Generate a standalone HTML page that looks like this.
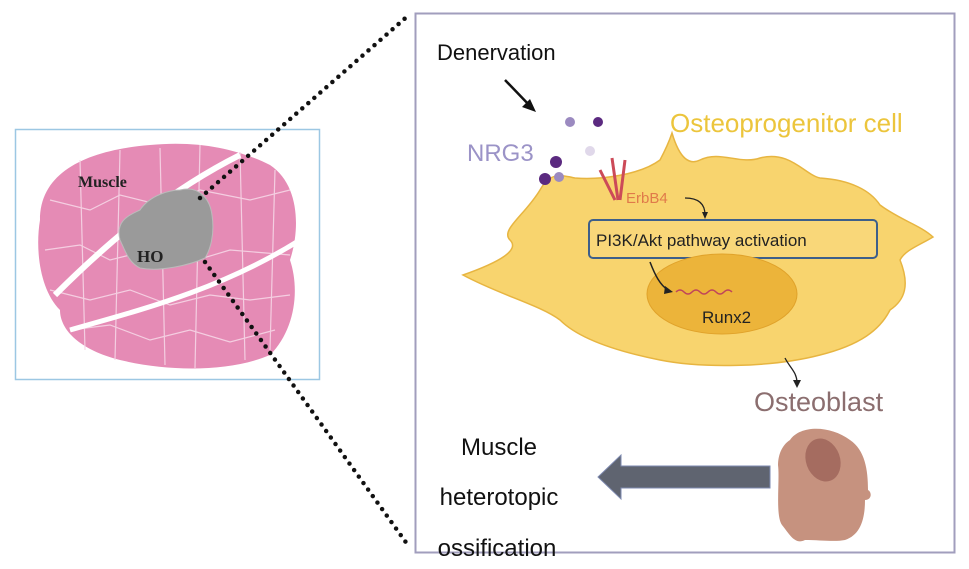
<!DOCTYPE html>
<html><head><style>body{margin:0;background:#fff}svg{display:block}</style></head>
<body>
<svg width="969" height="569" viewBox="0 0 969 569" xmlns="http://www.w3.org/2000/svg" font-family="Liberation Sans, sans-serif">
<rect width="969" height="569" fill="#fff"/>
<!-- left panel -->
<rect x="15.5" y="129.5" width="304" height="250" fill="#fff" stroke="#9cc7e3" stroke-width="1.5"/>
<path d="M40,220 C40,170 90,150 150,145 C200,140 240,150 270,165 C300,185 300,230 290,260 C300,290 295,330 270,355 C230,372 170,372 120,360 C80,350 60,330 60,310 C40,290 35,250 40,220Z" fill="#e58bb5"/>
<g stroke="#f6d6e6" stroke-width="1.2" fill="none" opacity="0.9">
<path d="M50,200 L90,210 L120,195 L160,205 L200,190 L250,200 L290,190"/>
<path d="M45,250 L80,245 L110,260 L150,250 L190,262 L230,250 L290,255"/>
<path d="M50,290 L90,300 L130,290 L170,305 L210,295 L250,300 L290,295"/>
<path d="M70,330 L110,325 L150,340 L190,330 L230,342 L275,330"/>
<path d="M80,160 L85,350 M120,150 L115,360 M160,148 L165,365 M200,145 L195,368 M240,152 L245,360 M275,170 L270,350"/>
</g>
<path d="M55,295 C110,240 170,190 240,155" stroke="#fff" stroke-width="6" fill="none"/>
<path d="M70,330 C140,310 220,290 300,240" stroke="#fff" stroke-width="5" fill="none"/>
<path d="M120,240 C115,220 130,215 140,210 C150,195 170,190 180,190 C200,185 210,200 212,215 C215,235 210,250 205,258 C190,265 160,272 140,268 C128,262 125,250 120,240Z" fill="#9a9a9a" stroke="#bbb"/>
<text x="78" y="187" style="font-family:'Liberation Serif',serif;font-weight:bold;font-size:16px" fill="#222">Muscle</text>
<text x="137" y="262" style="font-family:'Liberation Serif',serif;font-weight:bold;font-size:17px" fill="#222">HO</text>
<!-- dotted lines -->
<line x1="200" y1="198" x2="410" y2="14" stroke="#111" stroke-width="4.5" stroke-dasharray="0 8" stroke-linecap="round"/>
<line x1="205" y1="262" x2="410" y2="548" stroke="#111" stroke-width="4.5" stroke-dasharray="0 8" stroke-linecap="round"/>
<!-- right panel -->
<rect x="415.5" y="13.5" width="539" height="539" fill="#fff" stroke="#a19ebd" stroke-width="2"/>
<text x="437" y="60" font-size="22" fill="#111">Denervation</text>
<path d="M505,80 L532,108" stroke="#111" stroke-width="2.5"/>
<path d="M536,112 L522,107 L530,99Z" fill="#111"/>
<text x="467" y="161" font-size="24" fill="#9b93c7">NRG3</text>
<!-- cell -->
<path d="M463,275 C500,262 520,250 510,240 C500,230 525,215 540,190 C550,172 560,175 575,178 C600,180 640,175 660,160 C668,145 672,133 672,133 C680,160 690,165 700,160 C720,150 740,165 760,158 C790,150 805,175 820,178 C850,180 870,190 880,205 C900,220 920,225 933,237 C920,245 905,250 900,260 C910,285 905,300 890,310 C880,330 860,345 820,355 C770,368 700,368 660,360 C620,352 580,340 560,320 C540,305 500,295 463,275Z" fill="#f8d46e" stroke="#e7b541" stroke-width="1.5"/>
<text x="670" y="132" font-size="26" fill="#ecc53c">Osteoprogenitor cell</text>
<circle cx="570" cy="122" r="5" fill="#9b8ac0"/><circle cx="598" cy="122" r="5" fill="#5b2a80"/>
<circle cx="590" cy="151" r="5" fill="#e0d8ea"/><circle cx="556" cy="162" r="6" fill="#5b2a80"/>
<circle cx="545" cy="179" r="6" fill="#5b2a80"/><circle cx="559" cy="177" r="5" fill="#9b8ac0"/>
<path d="M600,170 L615,200 M612,158 L618,200 M625,160 L620,200" stroke="#cc4a58" stroke-width="3" fill="none"/>
<text x="626" y="203" font-size="15" fill="#e07a4a">ErbB4</text>
<path d="M685,198 C700,198 705,205 705,215" stroke="#222" stroke-width="1.2" fill="none"/><path d="M702,212 L708,212 L705,219Z" fill="#222"/>
<rect x="589" y="220" width="288" height="38" rx="4" fill="#f9d779" stroke="#3e5f8a" stroke-width="2"/>
<text x="596" y="246" font-size="17" fill="#222">PI3K/Akt pathway activation</text>
<ellipse cx="722" cy="294" rx="75" ry="40" fill="#ecb43a" stroke="#e0a22a"/>
<path d="M650,262 C655,275 660,285 668,290" stroke="#222" stroke-width="1.5" fill="none"/><path d="M665,286 L673,292 L664,294Z" fill="#222"/>
<path d="M676,292 Q680,288 684,292 T692,292 T700,292 T708,292 T716,292 T724,292 T732,292" stroke="#c0455a" stroke-width="1.5" fill="none"/>
<text x="702" y="323" font-size="17" fill="#222">Runx2</text>
<path d="M785,358 C790,368 797,372 797,383" stroke="#222" stroke-width="1.3" fill="none"/><path d="M793,380 L801,380 L797,388Z" fill="#222"/>
<text x="754" y="411" font-size="27" fill="#8b6e6f">Osteoblast</text>
<!-- osteoblast cell -->
<path d="M790,440 C800,425 830,425 850,440 C865,450 868,470 868,490 C872,492 872,500 865,500 C865,520 860,535 845,540 C835,542 820,540 805,540 C795,545 790,535 782,525 C775,515 780,480 778,465 C778,455 782,445 790,440Z" fill="#c6927f"/>
<ellipse cx="823" cy="460" rx="17" ry="22" transform="rotate(-20 823 460)" fill="#a56c60"/>
<!-- big arrow -->
<path d="M770,466 L621,466 L621,455 L598,477 L621,499 L621,488 L770,488Z" fill="#5f6470" stroke="#7e8ab0" stroke-width="1"/>
<text x="499" y="455" font-size="24" fill="#111" text-anchor="middle">Muscle</text>
<text x="499" y="505" font-size="24" fill="#111" text-anchor="middle">heterotopic</text>
<text x="497" y="556" font-size="24" fill="#111" text-anchor="middle">ossification</text>
</svg>
</body></html>
